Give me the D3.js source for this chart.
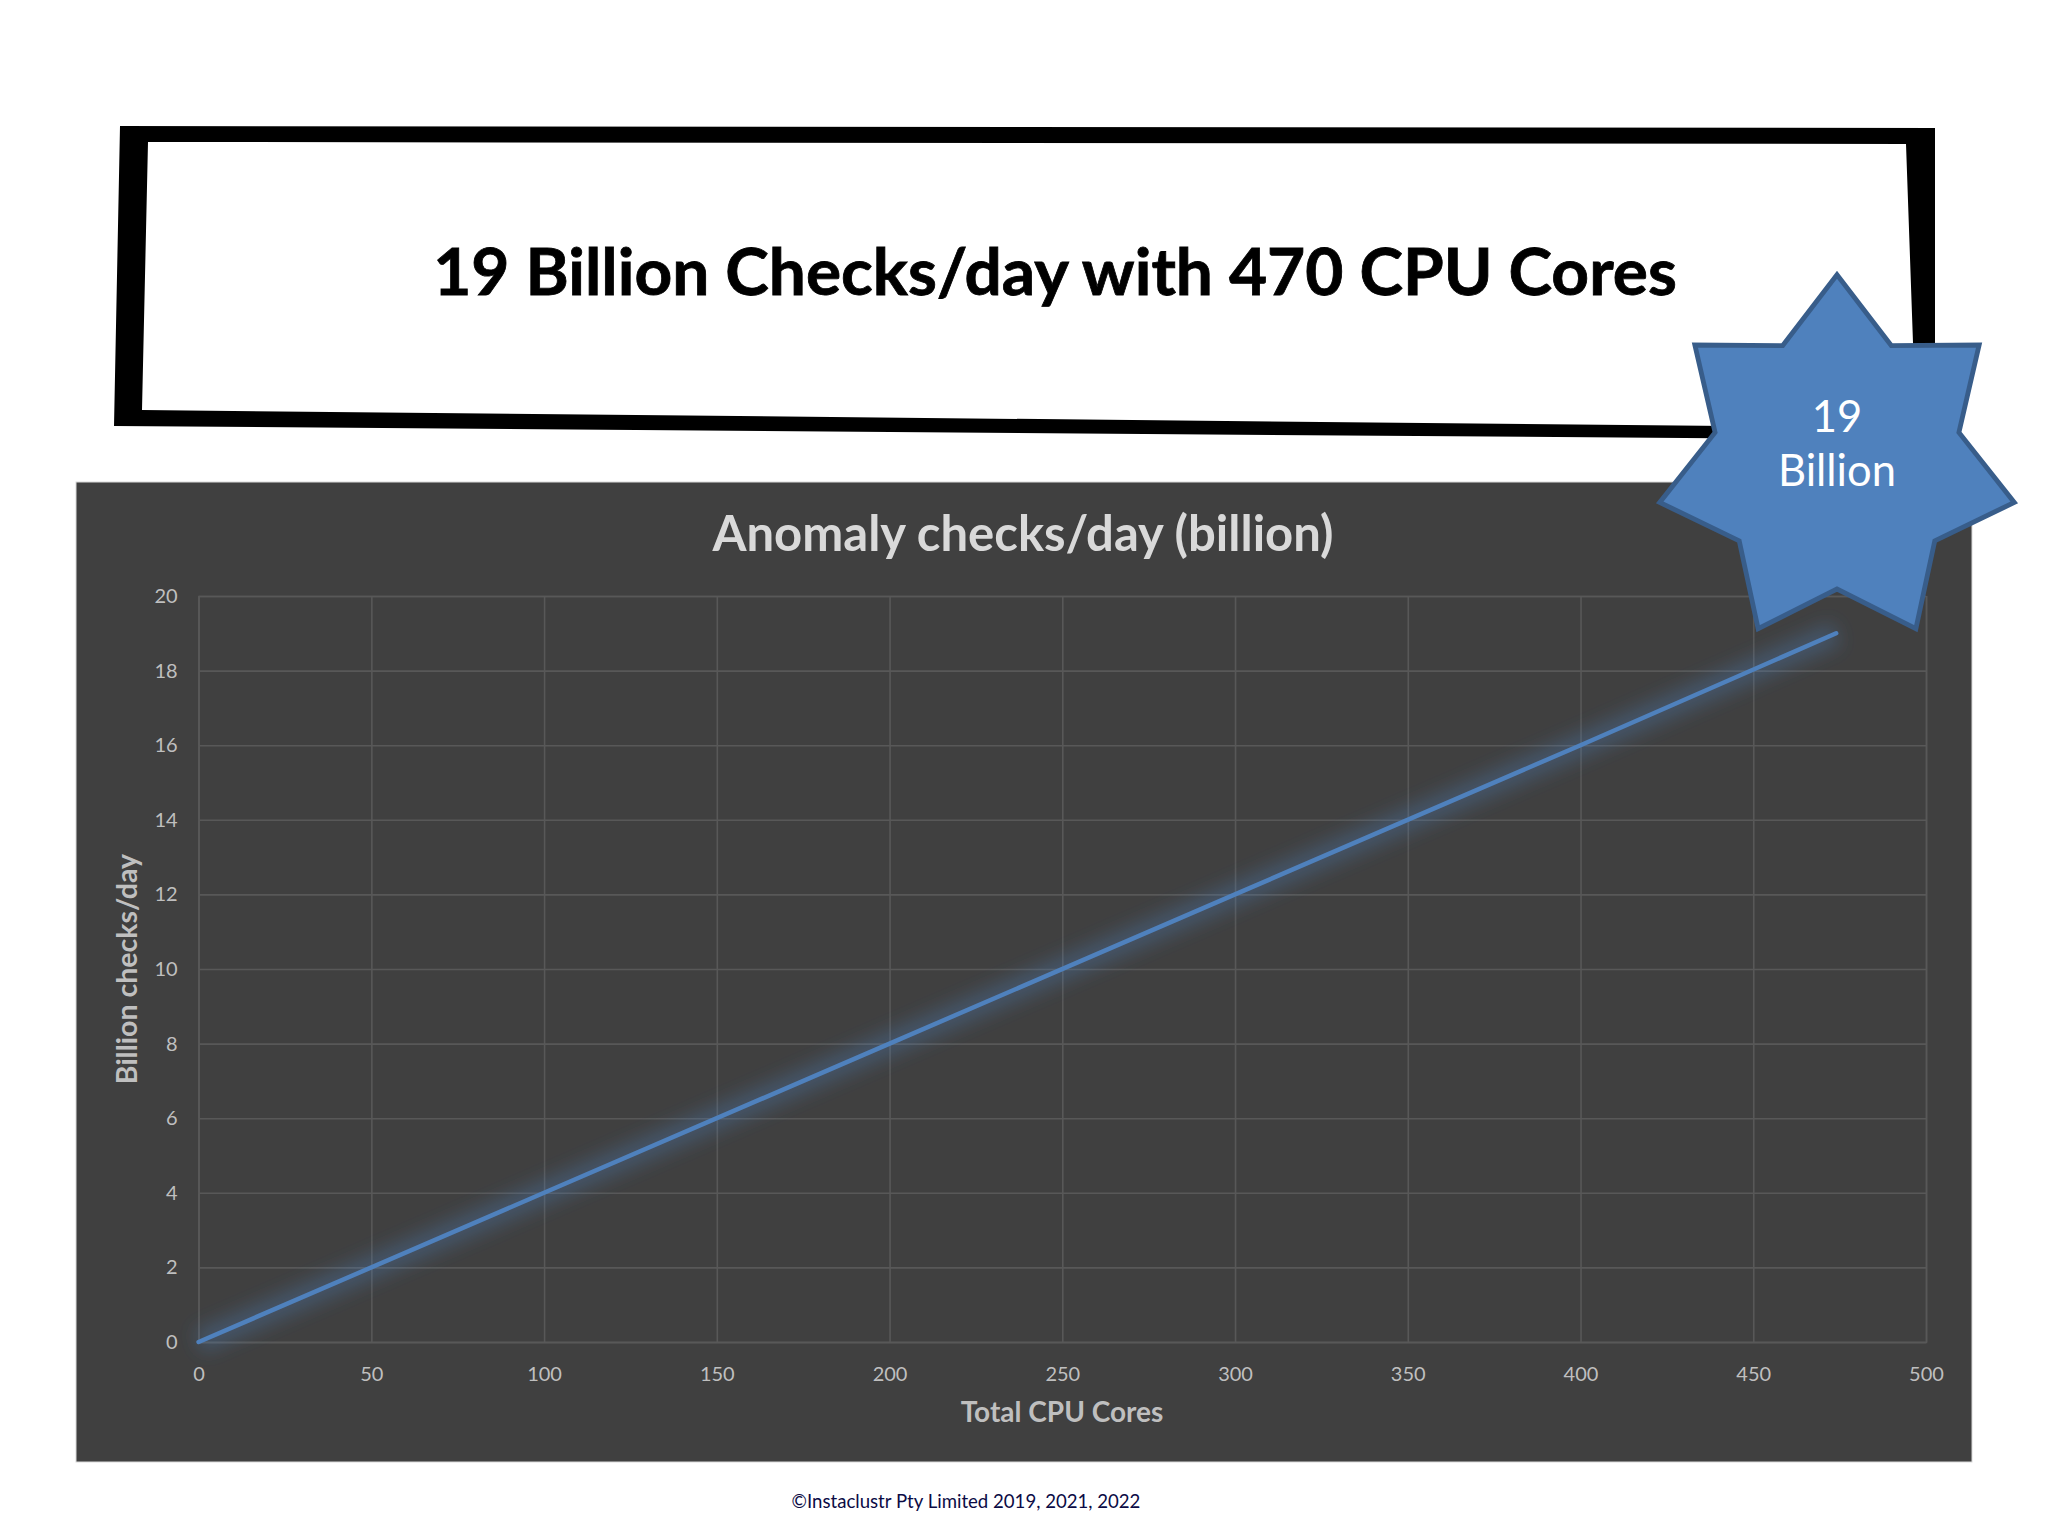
<!DOCTYPE html>
<html>
<head>
<meta charset="utf-8">
<script src="https://cdn.jsdelivr.net/npm/d3@7"></script>
<style>
  html, body { margin: 0; padding: 0; background: #fff; }
  svg { display: block; }
  text { font-family: Lato, "Open Sans", sans-serif; }
  .grid line { stroke: #585858; stroke-width: 1.6; }
  .grid path { stroke: #585858; stroke-width: 1.6; fill: none; }
  .grid text { fill: #bfbfbf; font-size: 20px; }
</style>
</head>
<body>
<div id="chart"></div>
<script>
// values
var cores = [0, 100, 200, 300, 400, 474];
var checks = [0, 4, 8, 12, 16, 19];
var xTicks = [0, 50, 100, 150, 200, 250, 300, 350, 400, 450, 500];
var yTicks = [0, 2, 4, 6, 8, 10, 12, 14, 16, 18, 20];

var width = 2048, height = 1537;
var margin = {top: 596, right: 122, bottom: 195, left: 198.6};

var svg = d3.select("#chart").append("svg")
    .attr("width", width)
    .attr("height", height);

var defs = svg.append("defs");
defs.append("filter").attr("id", "glow")
    .attr("x", "-10%").attr("y", "-10%").attr("width", "120%").attr("height", "120%")
    .append("feGaussianBlur").attr("stdDeviation", 9);

//==============================title box=====================================

svg.append("path")
    .attr("fill-rule", "evenodd")
    .attr("fill", "#000")
    .attr("d", "M120 126 L1935 128 L1935 440 L114 426 Z M148 142 L1906 144 L1916 428 L142 410 Z");

svg.append("text")
    .attr("x", 1055).attr("y", 295)
    .attr("text-anchor", "middle")
    .attr("font-size", 65.8).attr("font-weight", 700)
    .attr("stroke", "#000").attr("stroke-width", 0.8)
    .attr("fill", "#000")
    .text("19 Billion Checks/day with 470 CPU Cores");

//==============================chart panel===================================

svg.append("rect")
    .attr("x", 76).attr("y", 482)
    .attr("width", 1896).attr("height", 980)
    .attr("fill", "#404040")
    .attr("stroke", "#d9d9d9").attr("stroke-width", 1);

var x = d3.scaleLinear().domain([0, 500]).range([margin.left, width - margin.right]);
var y = d3.scaleLinear().domain([0, 20]).range([height - margin.bottom, margin.top]);

svg.append("g")
    .attr("class", "grid")
    .attr("transform", "translate(0," + y(0) + ")")
    .call(d3.axisBottom(x).tickValues(xTicks).tickSize(-(y(0) - y(20))).tickPadding(25));

svg.append("g")
    .attr("class", "grid")
    .attr("transform", "translate(" + x(0) + ",0)")
    .call(d3.axisLeft(y).tickValues(yTicks).tickSize(-(x(500) - x(0))).tickPadding(21));

var line = d3.line()
    .x(function(d, i) { return x(cores[i]); })
    .y(function(d) { return y(d); });

svg.append("path")
    .datum(checks)
    .attr("fill", "none")
    .attr("stroke", "#4f81bd")
    .attr("stroke-width", 24)
    .attr("stroke-opacity", 0.32)
    .attr("filter", "url(#glow)")
    .attr("d", line);

svg.append("path")
    .datum(checks)
    .attr("fill", "none")
    .attr("stroke", "#4f81bd")
    .attr("stroke-width", 4.5)
    .attr("stroke-linecap", "round")
    .attr("d", line);

svg.append("text")
    .attr("x", 1023).attr("y", 551)
    .attr("text-anchor", "middle")
    .attr("font-size", 49).attr("font-weight", 700)
    .attr("fill", "#d9d9d9")
    .text("Anomaly checks/day (billion)");

svg.append("text")
    .attr("x", 1062).attr("y", 1422)
    .attr("text-anchor", "middle")
    .attr("font-size", 28).attr("font-weight", 700)
    .attr("fill", "#bfbfbf")
    .text("Total CPU Cores");

svg.append("text")
    .attr("transform", "translate(137,969) rotate(-90)")
    .attr("text-anchor", "middle")
    .attr("font-size", 28.5).attr("font-weight", 700)
    .attr("fill", "#bfbfbf")
    .text("Billion checks/day");

//==============================star callout==================================

var starPoints = d3.range(14).map(function(i) {
    return [i * Math.PI / 7, i % 2 === 0 ? 189 : 130];
});

svg.append("path")
    .attr("transform", "translate(1837,461) scale(0.962,0.985)")
    .attr("fill", "#4f81bd")
    .attr("stroke", "#385d8a")
    .attr("stroke-width", 5)
    .attr("stroke-linejoin", "miter")
    .attr("d", d3.lineRadial().curve(d3.curveLinearClosed)(starPoints));

svg.append("text")
    .attr("x", 1837).attr("y", 432)
    .attr("text-anchor", "middle")
    .attr("font-size", 43.5)
    .attr("fill", "#fff")
    .text("19");

svg.append("text")
    .attr("x", 1837).attr("y", 486)
    .attr("text-anchor", "middle")
    .attr("font-size", 43.5)
    .attr("fill", "#fff")
    .text("Billion");

svg.append("text")
    .attr("x", 966).attr("y", 1508)
    .attr("text-anchor", "middle")
    .attr("font-size", 18.6)
    .attr("fill", "#0b0b45")
    .text("©Instaclustr Pty Limited 2019, 2021, 2022");
</script>
</body>
</html>
